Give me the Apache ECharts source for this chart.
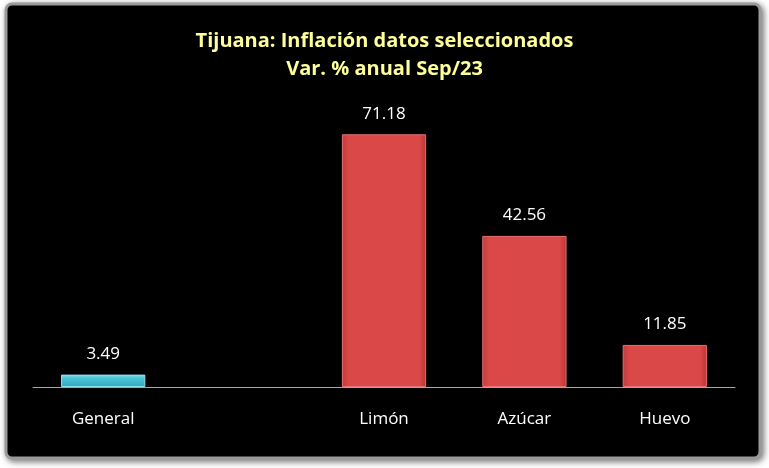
<!DOCTYPE html>
<html>
<head>
<meta charset="utf-8">
<script src="https://cdn.jsdelivr.net/npm/echarts@6/dist/echarts.min.js"></script>
<style>
  html, body { margin: 0; padding: 0; background: #fff; }
  #chart { width: 769px; height: 468px; }
</style>
</head>
<body>
<div id="chart"></div>
<script>
// datos
const categories = ['General', '', 'Limón', 'Azúcar', 'Huevo'];
const values = [3.49, null, 71.18, 42.56, 11.85];
const barKinds = ['general', null, 'item', 'item', 'item'];

const chart = echarts.init(document.getElementById('chart'));

function barStyle(kind) {
  if (kind === 'general') {
    return {
      color: new echarts.graphic.LinearGradient(0, 0, 0, 1, [
        {offset: 0, color: '#7fdcea'},
        {offset: 0.3, color: '#4cc3d6'},
        {offset: 1, color: '#2ea9bd'}
      ]),
      borderColor: '#8fe3ef',
      borderWidth: 1
    };
  }
  return {
    color: new echarts.graphic.LinearGradient(0, 0, 1, 0, [
      {offset: 0, color: '#c23a3a'},
      {offset: 0.08, color: '#db4848'},
      {offset: 0.92, color: '#db4848'},
      {offset: 1, color: '#b83434'}
    ]),
    borderColor: '#e87070',
    borderWidth: 1
  };
}

const option = {
  backgroundColor: '#ffffff',
  animation: false,
  graphic: [
    {
      type: 'rect',
      shape: {x: 6, y: 4, width: 754, height: 454, r: 6},
      style: {
        fill: '#000000',
        stroke: '#9a9a9a',
        lineWidth: 3,
        shadowBlur: 6,
        shadowColor: 'rgba(0,0,0,0.5)',
        shadowOffsetX: 2,
        shadowOffsetY: 2
      },
      z: -10
    }
  ],
  title: {
    text: 'Tijuana: Inflación datos seleccionados\nVar. % anual Sep/23',
    left: 'center',
    top: 22,
    textStyle: {
      color: '#ffff99',
      fontFamily: '"Liberation Sans Narrow", "Open Sans", sans-serif',
      fontWeight: 'bold',
      fontSize: 20,
      lineHeight: 28
    }
  },
  grid: {left: 33, right: 34, top: 103, bottom: 81},
  xAxis: {
    type: 'category',
    data: categories,
    axisLine: {lineStyle: {color: '#a6a6a6', width: 1}},
    axisTick: {show: false},
    axisLabel: {
      color: '#ffffff',
      fontSize: 17,
      fontFamily: '"Open Sans", sans-serif',
      margin: 24,
      interval: 0
    }
  },
  yAxis: {
    type: 'value',
    min: 0,
    max: 80,
    show: false,
    splitLine: {show: false}
  },
  series: [
    {
      type: 'bar',
      barWidth: '60%',
      data: values.map(function (v, i) {
        return {value: v, itemStyle: barKinds[i] ? barStyle(barKinds[i]) : {}};
      }),
      label: {
        show: true,
        position: 'top',
        distance: 12,
        color: '#ffffff',
        fontSize: 17,
        fontFamily: '"Open Sans", sans-serif'
      }
    }
  ]
};

chart.setOption(option);
</script>
</body>
</html>
